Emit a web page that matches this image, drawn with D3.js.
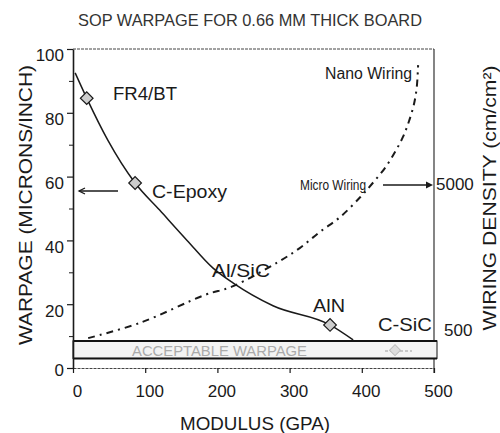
<!DOCTYPE html>
<html>
<head>
<meta charset="utf-8">
<script src="https://cdn.jsdelivr.net/npm/d3@7"></script>
<style>
  html, body { margin: 0; padding: 0; background: #fff; }
  svg { display: block; font-family: "Liberation Sans", Arial, sans-serif; }
</style>
</head>
<body>
<svg id="chart" width="500" height="433"></svg>
<script>
// ─── Data ────────────────────────────────────────────────────
const modulusTicks   = [0, 100, 200, 300, 400, 500];
const warpageTicks   = [0, 20, 40, 60, 80, 100];
const warpageMinor   = [10, 30, 50, 70, 90];
const densityTicks   = [500, 5000];

// warpage curve (GPa, microns/inch)
const warpModulus    = [3, 19, 48, 86, 120, 158, 194, 222, 277, 356, 388];
const warpValues     = [92.5, 84.6, 71.5, 58, 49.5, 40, 31.3, 26.6, 19.5, 13.5, 8.8];

// materials marked with diamonds
const materials      = ["FR4/BT", "C-Epoxy", "AlN"];
const matModulus     = [19, 86, 356];
const matWarpage     = [84.6, 58, 13.5];

// wiring density curve (GPa, cm/cm²) on the log right axis
const densModulus    = [21, 93, 183, 220, 284, 314, 342, 370, 398, 414, 432, 446, 457, 465, 472, 476, 478];
const densValues     = [440, 560, 870, 990, 1460, 1820, 2350, 2970, 4070, 5000, 6430, 8280, 10500, 13300, 17400, 22700, 32600];

const acceptableBand = [3, 8.5];   // warpage range of the acceptable band

// ─── Scales ──────────────────────────────────────────────────
const svg = d3.select("#chart");
const x   = d3.scaleLinear().domain([0, 500]).range([73, 434]);
const y   = d3.scaleLinear().domain([0, 100]).range([368, 49]);
const yR  = d3.scaleLog().domain([500, 5000]).range([330, 184]);
const ink = "#1a1a1a";

function label(txt, px, py, size, opts = {}) {
  const t = svg.append("text")
    .attr("x", px).attr("y", py)
    .attr("font-size", size)
    .attr("fill", opts.fill || ink)
    .attr("text-anchor", opts.anchor || "start")
    .text(txt);
  if (opts.len) t.attr("textLength", opts.len).attr("lengthAdjust", "spacingAndGlyphs");
  if (opts.rotate) t.attr("transform", `rotate(${opts.rotate},${px},${py})`);
  return t;
}

// 1. Title
label("SOP WARPAGE  FOR 0.66 MM THICK BOARD", 250, 26, 17, { anchor: "middle", len: 344, fill: "#333" });

// 2. Frame (top + right are thin, bottom dotted)
svg.append("line").attr("x1", x(0)).attr("x2", x(500)).attr("y1", y(100)).attr("y2", y(100))
  .attr("stroke", "#444").attr("stroke-width", 1).attr("stroke-dasharray", "3,1");
svg.append("line").attr("x1", x(500)).attr("x2", x(500)).attr("y1", y(100)).attr("y2", y(0) + 5)
  .attr("stroke", "#333").attr("stroke-width", 1.2);

// 3. Acceptable warpage band
svg.append("rect")
  .attr("x", x(0)).attr("width", x(500) + 3 - x(0))
  .attr("y", y(acceptableBand[1])).attr("height", y(acceptableBand[0]) - y(acceptableBand[1]))
  .attr("fill", "#f3f3f3").attr("stroke", "#111").attr("stroke-width", 1);
[acceptableBand[0], acceptableBand[1]].forEach(v => {
  svg.append("line").attr("x1", x(0)).attr("x2", x(500) + 3).attr("y1", y(v)).attr("y2", y(v))
    .attr("stroke", "#111").attr("stroke-width", 2);
});
label("ACCEPTABLE WARPAGE", 132, 356, 14, { len: 175, fill: "#aaa" });

// faint C-SiC marker inside the band
svg.append("line").attr("x1", 385).attr("x2", 412).attr("y1", 351).attr("y2", 351)
  .attr("stroke", "#bbb").attr("stroke-width", 1.5).attr("stroke-dasharray", "3,2");
svg.append("path")
  .attr("d", d3.symbol(d3.symbolSquare, 60)())
  .attr("transform", `translate(${x(446)},${y(5.6)}) rotate(45)`)
  .attr("fill", "#ddd").attr("stroke", "#bbb");

// 4. Axes
const bottom = svg.append("g").attr("transform", `translate(0,${y(0)})`)
  .call(d3.axisBottom(x).tickValues(modulusTicks).tickSize(5).tickPadding(12).tickSizeOuter(0));
bottom.select(".domain").attr("stroke", "#444").attr("stroke-dasharray", "3,1");
bottom.selectAll(".tick line").attr("stroke", ink).attr("stroke-width", 1.2);
bottom.selectAll(".tick text").attr("font-size", 17).attr("fill", ink).attr("dx", 4)
  .attr("font-family", "Liberation Sans, Arial, sans-serif");

const left = svg.append("g").attr("transform", `translate(${x(0)},0)`)
  .call(d3.axisLeft(y).tickValues(warpageTicks).tickSize(6).tickPadding(3).tickSizeOuter(0));
left.select(".domain").attr("stroke", ink).attr("stroke-width", 1.6);
left.selectAll(".tick line").attr("stroke", ink).attr("stroke-width", 1.2);
left.selectAll(".tick text").attr("font-size", 17).attr("fill", ink)
  .attr("dy", d => d === 0 ? "0.45em" : "0.7em")
  .attr("font-family", "Liberation Sans, Arial, sans-serif");
svg.append("g").attr("transform", `translate(${x(0)},0)`)
  .call(d3.axisLeft(y).tickValues(warpageMinor).tickSize(4).tickFormat(""))
  .call(g => g.select(".domain").remove())
  .selectAll(".tick line").attr("stroke", ink);

const right = svg.append("g").attr("transform", `translate(${x(500)},0)`)
  .call(d3.axisRight(yR).tickValues(densityTicks).tickSize(0).tickPadding(2).tickFormat(d3.format("d")));
right.select(".domain").remove();
right.selectAll(".tick text").attr("font-size", 17).attr("fill", ink)
  .attr("dx", d => d === 500 ? 8 : 0)
  .attr("font-family", "Liberation Sans, Arial, sans-serif");

// 5. Axis titles
label("WARPAGE (MICRONS/INCH)", 32, 205, 19, { anchor: "middle", rotate: -90, len: 280 });
label("WIRING DENSITY (cm/cm²)", 496, 198, 19, { anchor: "middle", rotate: -90, len: 265 });
label("MODULUS (GPA)", 255, 430, 18, { anchor: "middle", len: 150 });

// 6. Warpage curve
const warpPts = warpModulus.map((m, i) => [x(m), y(warpValues[i])]);
svg.append("path")
  .attr("d", d3.line().curve(d3.curveMonotoneX)(warpPts))
  .attr("fill", "none").attr("stroke", ink).attr("stroke-width", 1.5);

// 7. Wiring density curve (dash-dot)
const densPts = densModulus.map((m, i) => [x(m), yR(densValues[i])]);
svg.append("path")
  .attr("d", d3.line().curve(d3.curveCatmullRom)(densPts))
  .attr("fill", "none").attr("stroke", ink).attr("stroke-width", 2)
  .attr("stroke-dasharray", "7,5,2,5");

// 8. Material markers
svg.selectAll("path.mat")
  .data(materials)
  .join("path")
  .attr("class", "mat")
  .attr("d", d3.symbol(d3.symbolSquare, 80)())
  .attr("transform", (d, i) => `translate(${x(matModulus[i])},${y(matWarpage[i])}) rotate(45)`)
  .attr("fill", "#cdcdcd").attr("stroke", ink).attr("stroke-width", 1.2);

// 9. Annotations
label("FR4/BT", 113, 100, 19, { len: 64 });
label("C-Epoxy", 152, 198, 19, { len: 75 });
label("Al/SiC", 212, 277, 19, { len: 58 });
label("AlN", 313, 312, 19, { len: 32 });
label("C-SiC", 378, 331, 19, { len: 54 });
label("Nano Wiring", 412, 79, 16, { anchor: "end", len: 87 });
label("Micro Wiring", 300, 190, 15, { len: 66 });

// arrows pointing to each axis
svg.append("line").attr("x1", 118).attr("x2", 79).attr("y1", 191).attr("y2", 191)
  .attr("stroke", ink).attr("stroke-width", 1.3);
svg.append("path").attr("d", "M85,188 L79,191 L85,194")
  .attr("fill", "none").attr("stroke", ink).attr("stroke-width", 1.3);
svg.append("line").attr("x1", 383).attr("x2", 428).attr("y1", 185).attr("y2", 185)
  .attr("stroke", ink).attr("stroke-width", 1.3);
svg.append("path").attr("d", "M426,181.5 L433,185 L426,188.5 Z").attr("fill", ink);
</script>
</body>
</html>
